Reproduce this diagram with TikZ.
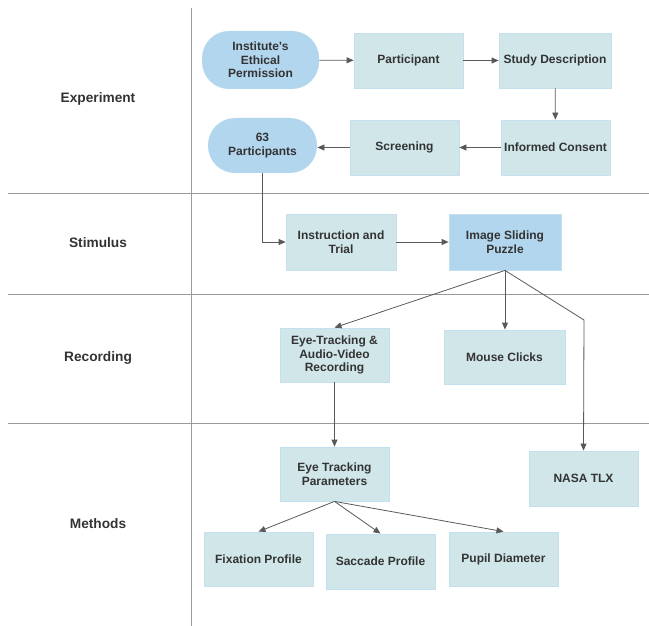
\documentclass[tikz,border=0pt]{standalone}
\usepackage{fontspec}
\setmainfont{Liberation Sans}
\usetikzlibrary{arrows.meta,shadows}
\definecolor{boxfill}{HTML}{D0E6E9}
\definecolor{boxline}{HTML}{C4E0EE}
\definecolor{pillfill}{HTML}{B3D6EF}
\definecolor{txtgray}{HTML}{333333}
\definecolor{arrgray}{HTML}{595959}
\definecolor{lanegray}{HTML}{9A9A9A}
\tikzset{
  stepbox/.style={draw=boxline, fill=boxfill, line width=0.8pt, minimum width=109pt,
    minimum height=55pt, align=center, text=txtgray, inner sep=2pt,
    font=\fontsize{12}{13.5}\selectfont\bfseries},
  pill/.style={stepbox, draw=none, fill=pillfill, rounded corners=27pt},
  lanelabel/.style={text=txtgray, font=\fontsize{13.7}{16}\selectfont\bfseries},
  arr/.style={draw=arrgray, line width=0.8pt, -{Triangle[length=7pt,width=6pt]}},
  lane/.style={draw=lanegray, line width=1pt},
}
\begin{document}
\begin{tikzpicture}[x=1pt,y=-1pt]
	\useasboundingbox (0,0) rectangle (649,626);
	% swim lanes
	\draw[lane] (191,8) -- (191,626);
	\draw[lane] (8,193) -- (649,193);
	\draw[lane] (8,294) -- (649,294);
	\draw[lane] (8,423) -- (649,423);
	\node[lanelabel] (lexp) at (98,99) {Experiment};
	\node[lanelabel] (lstim) at (98,243) {Stimulus};
	\node[lanelabel] (lrec) at (98,358) {Recording};
	\node[lanelabel] (lmeth) at (98,524) {Methods};
	% experiment
	\node[pill, minimum width=117pt, minimum height=58pt] (ethic) at (260.5,60) {Institute\textquotesingle s\\Ethical\\Permission};
	\node[stepbox] (part) at (408.5,60.5) {Participant};
	\node[stepbox, minimum width=112pt] (study) at (555,60.5) {Study Description};
	\node[stepbox] (consent) at (555.5,147.5) {Informed Consent};
	\node[stepbox] (screen) at (404.5,147.5) {Screening};
	\node[pill] (p63) at (262.5,145.5) {63\\Participants};
	% stimulus
	\node[stepbox, minimum width=110pt, minimum height=56pt] (instr) at (341,242) {Instruction and\\Trial};
	\node[stepbox, fill=pillfill, minimum width=112pt, minimum height=56pt,
		drop shadow={shadow xshift=0.8pt, shadow yshift=-0.8pt, opacity=0.2}] (puzzle) at (505,242) {Image Sliding\\Puzzle};
	% recording
	\node[stepbox, minimum height=54pt] (eyerec) at (334.5,355) {Eye-Tracking \&\\Audio-Video\\Recording};
	\node[stepbox, minimum width=121pt, minimum height=54pt] (mouse) at (504.5,357) {Mouse Clicks};
	% methods
	\node[stepbox, minimum height=54pt] (eyepar) at (334.5,474) {Eye Tracking\\Parameters};
	\node[stepbox] (nasa) at (583.5,478.5) {NASA TLX};
	\node[stepbox, minimum height=54pt] (fix) at (258.5,559) {Fixation Profile};
	\node[stepbox] (sacc) at (380.5,561.5) {Saccade Profile};
	\node[stepbox, minimum height=54pt] (pupil) at (503.5,559) {Pupil Diameter};
	\coordinate (bend) at (584,320);
	% connectors
	\draw[arr] (ethic) -- (part);
	\draw[arr] (part) -- (study);
	\draw[arr] (study) -- (consent);
	\draw[arr] (consent) -- (screen);
	\draw[arr] (screen.west) -- (p63.east |- screen.west);
	\draw[arr] (p63.south) |- (instr.west);
	\draw[arr] (instr) -- (puzzle);
	\draw[arr] (puzzle.south) -- (eyerec.north);
	\draw[arr] (puzzle.south) -- (puzzle.south |- mouse.north);
	\draw[arr] (puzzle.south) -- (bend) -- (nasa.north);
	\draw[arr] (eyerec) -- (eyepar);
	\draw[arr] (eyepar.south) -- (fix.north);
	\draw[arr] (eyepar.south) -- (sacc.north);
	\draw[arr] (eyepar.south) -- (pupil.north);
\end{tikzpicture}
\end{document}
